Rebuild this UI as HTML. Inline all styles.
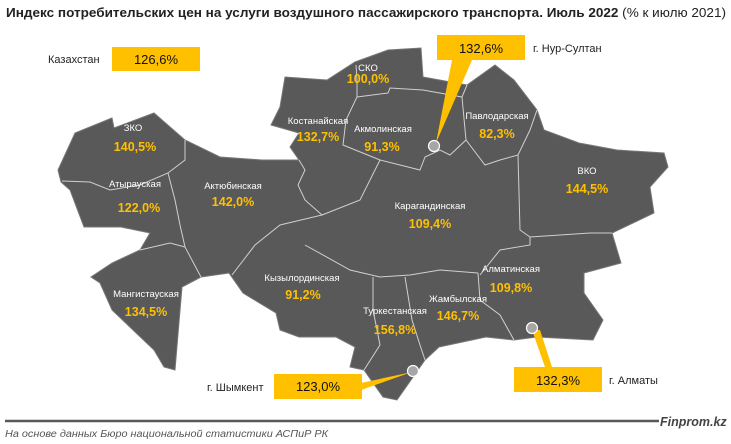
<!DOCTYPE html>
<html><head><meta charset="utf-8"><style>
body{margin:0;background:#fff;width:731px;height:444px;overflow:hidden;font-family:"Liberation Sans",sans-serif}
svg{position:absolute;left:0;top:0}
</style></head><body>
<svg width="731" height="444" viewBox="0 0 731 444" font-family="Liberation Sans, sans-serif">
<text x="6" y="17" font-size="13" font-weight="bold" fill="#222" textLength="720" lengthAdjust="spacingAndGlyphs">Индекс потребительских цен на услуги воздушного пассажирского транспорта. Июль 2022 <tspan font-weight="normal">(% к июлю 2021)</tspan></text>
<path d="M58,170 L75,133 L112,118 L114,128 L154,113 L185,140 L220,157 L262,160 L299,160 L290,147 L299,133 L271,125 L280,107 L285,77 L327,80 L355,62 L388,50 L421,48 L423,77 L467,85 L495,65 L514,80 L537,110 L544,130 L579,143 L617,150 L664,153 L668,167 L650,187 L654,213 L612,233 L621,263 L584,273 L584,293 L603,320 L593,340 L537,337 L514,340 L486,337 L439,347 L425,360 L411,380 L397,400 L383,397 L364,370 L350,367 L355,347 L336,337 L299,337 L280,330 L276,313 L243,293 L229,273 L201,277 L182,287 L175,370 L164,367 L154,350 L112,310 L100,283 L91,277 L112,263 L140,250 L150,233 L121,227 L84,227 L70,190 L61,182 Z" fill="#595959" stroke="#777" stroke-width="1"/>
<g fill="none" stroke="#d0d0d0" stroke-width="1">
<path d="M62,181 L90,182 L110,190 L140,185 L168,173 L185,160 L185,140"/>
<path d="M168,173 L175,200 L180,225 L185,247 L201,277"/>
<path d="M140,250 L170,243 L185,247"/>
<path d="M299,160 L305,170 L298,185 L305,200 L322,215 L280,225 L255,245 L232,275"/>
<path d="M322,215 L360,200 L380,160"/>
<path d="M356,65 L357,80 L357,97 L346,120 L343,145 L380,160 L400,165 L420,170 L425,157 L440,150 L450,155 L466,140 L462,97"/>
<path d="M357,97 L388,93 L390,88 L423,90 L462,97 L467,85"/>
<path d="M466,140 L485,165 L500,160 L518,155 L530,130 L537,110"/>
<path d="M518,155 L520,230 L530,237 L530,245 L500,250 L480,275"/>
<path d="M530,237 L590,233 L612,233"/>
<path d="M305,245 L350,270 L380,277 L410,275 L440,270 L478,273"/>
<path d="M373,277 L373,310 L380,345 L364,370"/>
<path d="M405,277 L412,320 L420,345 L425,360"/>
<path d="M478,273 L480,300 L500,315 L514,340"/>
</g>
<g font-size="9.5" fill="#fff" text-anchor="middle">
<text x="133" y="131">ЗКО</text><text x="135" y="187">Атырауская</text>
<text x="233" y="189">Актюбинская</text><text x="146" y="297">Мангистауская</text>
<text x="318" y="124">Костанайская</text><text x="368" y="71">СКО</text>
<text x="383" y="132">Акмолинская</text><text x="497" y="119">Павлодарская</text>
<text x="587" y="174">ВКО</text><text x="430" y="209">Карагандинская</text>
<text x="511" y="272">Алматинская</text><text x="302" y="281">Кызылординская</text>
<text x="395" y="314">Туркестанская</text><text x="458" y="302">Жамбылская</text>
</g>
<g font-size="12.5" font-weight="bold" fill="#ffc000" text-anchor="middle">
<text x="135" y="151">140,5%</text><text x="139" y="212">122,0%</text>
<text x="233" y="206">142,0%</text><text x="146" y="316">134,5%</text>
<text x="318" y="141">132,7%</text><text x="368" y="83">100,0%</text>
<text x="382" y="151">91,3%</text><text x="497" y="138">82,3%</text>
<text x="587" y="193">144,5%</text><text x="430" y="228">109,4%</text>
<text x="511" y="292">109,8%</text><text x="303" y="299">91,2%</text>
<text x="395" y="334">156,8%</text><text x="458" y="320">146,7%</text>
</g>
<polygon points="452,60 472,60 436,143" fill="#ffc000"/>
<polygon points="532,330 540,330 552,367 545,367" fill="#ffc000"/>
<polygon points="361,383 361,390 412,372" fill="#ffc000"/>
<g fill="#a6a6a6" stroke="#fff" stroke-width="1.2">
<circle cx="434" cy="146" r="5.5"/><circle cx="532" cy="328" r="5.5"/><circle cx="413" cy="371" r="5.5"/>
</g>
<rect x="112" y="47" width="88" height="24" fill="#ffc000"/>
<rect x="437" y="35" width="88" height="25" fill="#ffc000"/>
<rect x="514" y="367" width="88" height="25" fill="#ffc000"/>
<rect x="274" y="374" width="88" height="25" fill="#ffc000"/>
<g font-size="13" fill="#111" text-anchor="middle">
<text x="156" y="64">126,6%</text><text x="481" y="53">132,6%</text>
<text x="558" y="385">132,3%</text><text x="318" y="391">123,0%</text>
</g>
<g font-size="11" fill="#222">
<text x="48" y="63">Казахстан</text><text x="533" y="52">г. Нур-Султан</text>
<text x="609" y="384">г. Алматы</text><text x="207" y="391">г. Шымкент</text>
</g>
<line x1="5" y1="421" x2="659" y2="421" stroke="#595959" stroke-width="2.5"/>
<text x="660" y="426" font-size="12.5" font-weight="bold" font-style="italic" fill="#444">Finprom.kz</text>
<text x="5" y="437" font-size="10" font-style="italic" fill="#555" textLength="323" lengthAdjust="spacingAndGlyphs">На основе данных Бюро национальной статистики АСПиР РК</text>
</svg>
</body></html>
